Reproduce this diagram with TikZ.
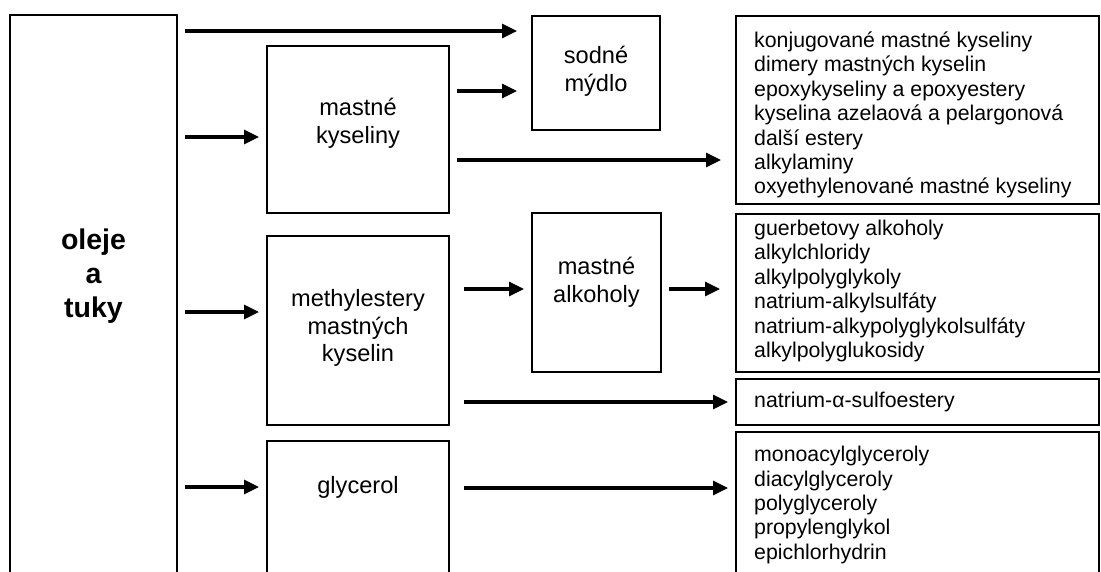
\documentclass[tikz,border=0pt]{standalone}
\usepackage{fontspec}
\setmainfont{Liberation Sans}
\usetikzlibrary{arrows.meta}
\begin{document}
\begin{tikzpicture}[x=1pt,y=-1pt,
  box/.style={draw=black, line width=1.5pt, inner sep=0pt, outer sep=0pt},
  arr/.style={line width=3.2pt, -{Triangle[length=15pt,width=14pt]}},
  midtxt/.style={font=\fontsize{23.6}{27.6}\selectfont, align=center, inner sep=0pt},
  listtxt/.style={font=\fontsize{21.3}{24.4}\selectfont, align=left, inner sep=0pt, anchor=west},
  bigtxt/.style={font=\bfseries\fontsize{28.5}{34}\selectfont, align=center, inner sep=0pt}]
\useasboundingbox (0,0) rectangle (1101,571);
\fill[white] (0,0) rectangle (1101,571);
\clip (0,0) rectangle (1101,571);

% boxes
\node[box, minimum width=167pt, minimum height=585pt] (L) at (93.5,307.5) {};
\node[box, minimum width=182pt, minimum height=167pt] (mk) at (358,129.5) {};
\node[box, minimum width=182pt, minimum height=189pt] (me) at (358,330.5) {};
\node[box, minimum width=182pt, minimum height=159pt] (gl) at (358,520.5) {};
\node[box, minimum width=128pt, minimum height=114pt] (so) at (596,73) {};
\node[box, minimum width=129pt, minimum height=159pt] (ma) at (596.5,292.5) {};
\node[box, minimum width=363pt, minimum height=188pt] (R1) at (917.5,110) {};
\node[box, minimum width=363pt, minimum height=158pt] (R2) at (917.5,293) {};
\node[box, minimum width=363pt, minimum height=46pt] (R3) at (917.5,402) {};
\node[box, minimum width=363pt, minimum height=168pt] (R4) at (917.5,516) {};

% texts
\node[bigtxt] (Lt) at (93.5,276) {oleje\\a\\tuky};
\node[midtxt] (mkt) at (358,123.5) {mastné\\kyseliny};
\node[midtxt] (met) at (358,328) {methylestery\\mastných\\kyselin};
\node[midtxt] (glt) at (358,487) {glycerol};
\node[midtxt] (sot) at (596,71) {sodné\\mýdlo};
\node[midtxt] (mat) at (596.5,282.5) {mastné\\alkoholy};
\node[listtxt] (R1t) at (754,115) {konjugované mastné kyseliny\\dimery mastných kyselin\\epoxykyseliny a epoxyestery\\kyselina azelaová a pelargonová\\další estery\\alkylaminy\\oxyethylenované mastné kyseliny};
\node[listtxt] (R2t) at (754,291) {guerbetovy alkoholy\\alkylchloridy\\alkylpolyglykoly\\natrium-alkylsulfáty\\natrium-alkypolyglykolsulfáty\\alkylpolyglukosidy};
\node[listtxt] (R3t) at (754,402) {natrium-α-sulfoestery};
\node[listtxt] (R4t) at (754,505) {monoacylglyceroly\\diacylglyceroly\\polyglyceroly\\propylenglykol\\epichlorhydrin};

% arrow levels
\coordinate (y1) at (0,31);
\coordinate (y2) at (0,137);
\coordinate (y3) at (0,91);
\coordinate (y4) at (0,160);
\coordinate (y5) at (0,312);
\coordinate (y6) at (0,289);
\coordinate (y8) at (0,402);
\coordinate (y9) at (0,487);
\coordinate (y10) at (0,488);

% connectors
\draw[arr, shorten <=8pt, shorten >=15pt] (L.east |- y1) -- (so.west |- y1);
\draw[arr, shorten <=8pt, shorten >=8pt] (L.east |- y2) -- (mk.west |- y2);
\draw[arr, shorten <=8pt, shorten >=15pt] (mk.east |- y3) -- (so.west |- y3);
\draw[arr, shorten <=8pt, shorten >=15pt] (mk.east |- y4) -- (R1.west |- y4);
\draw[arr, shorten <=8pt, shorten >=8pt] (L.east |- y5) -- (me.west |- y5);
\draw[arr, shorten <=15pt, shorten >=8pt] (me.east |- y6) -- (ma.west |- y6);
\draw[arr, shorten <=8pt, shorten >=16pt] (ma.east |- y6) -- (R2.west |- y6);
\draw[arr, shorten <=15pt, shorten >=8pt] (me.east |- y8) -- (R3.west |- y8);
\draw[arr, shorten <=8pt, shorten >=8pt] (L.east |- y9) -- (gl.west |- y9);
\draw[arr, shorten <=15pt, shorten >=8pt] (gl.east |- y10) -- (R4.west |- y10);
\end{tikzpicture}
\end{document}
